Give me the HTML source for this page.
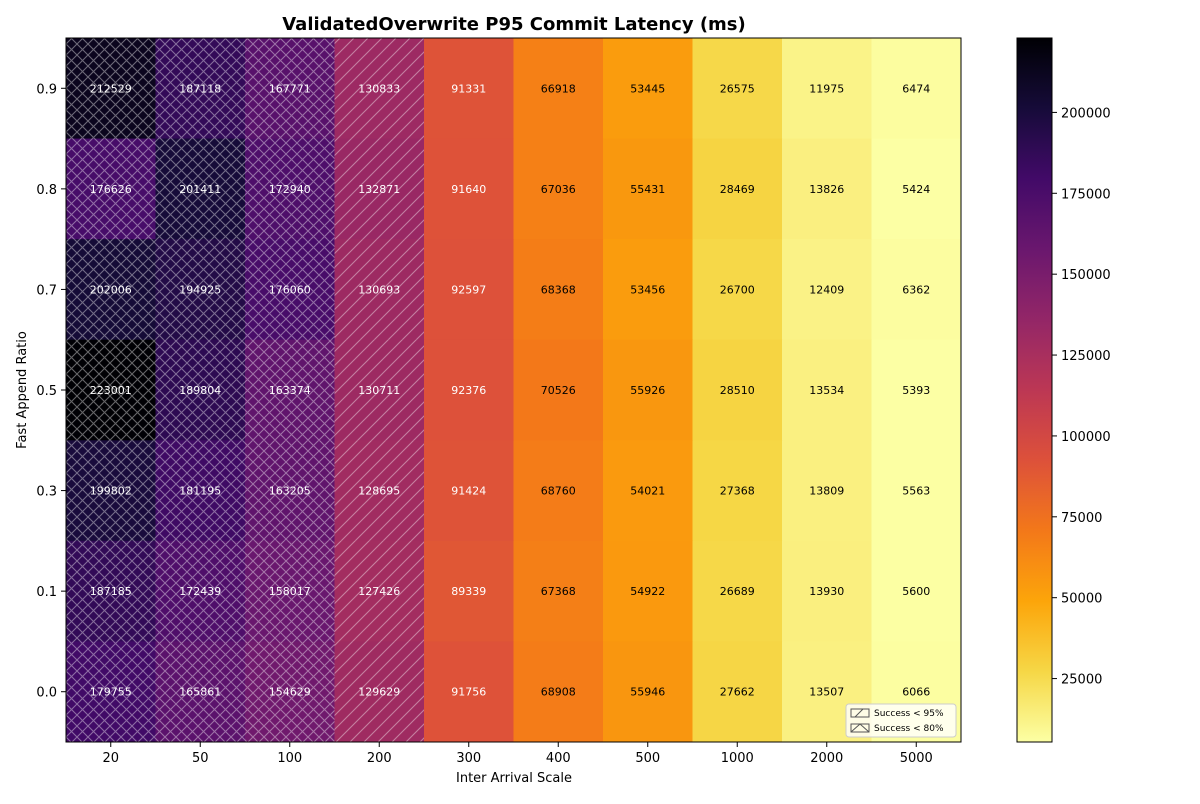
<!DOCTYPE html>
<html><head><meta charset="utf-8"><style>
body{margin:0;background:#fff;font-family:"DejaVu Sans","Liberation Sans",sans-serif}
</style></head><body>
<svg id="chart" width="1200" height="800" xmlns="http://www.w3.org/2000/svg" font-family="DejaVu Sans, Liberation Sans, sans-serif">
<defs>
<pattern id="hx" patternUnits="userSpaceOnUse" width="11" height="11">
<path d="M0,0L11,11M11,0L0,11" stroke="rgba(255,255,255,0.4)" stroke-width="1.1"/>
</pattern>
<pattern id="hs" patternUnits="userSpaceOnUse" width="14" height="14">
<path d="M-1,15L15,-1M-8,8L8,-8M6,22L22,6" stroke="rgba(255,255,255,0.4)" stroke-width="1.1"/>
</pattern>
<linearGradient id="cbg" x1="0" y1="1" x2="0" y2="0"></linearGradient>
</defs>
<text x="514" y="30" text-anchor="middle" font-size="18" font-weight="bold">ValidatedOverwrite P95 Commit Latency (ms)</text>
<g id="cells"></g>
<rect x="66" y="38" width="895" height="704" fill="none" stroke="#000" stroke-width="1"/>
<g id="axes"></g>
<text x="514" y="782" text-anchor="middle" font-size="13">Inter Arrival Scale</text>
<text transform="translate(26,390) rotate(-90)" text-anchor="middle" font-size="13">Fast Append Ratio</text>
<rect x="1017" y="38" width="35" height="704" fill="url(#cbg)"/>
<rect x="1017" y="38" width="35" height="704" fill="none" stroke="#000" stroke-width="1"/>
<g id="cbticks"></g>
<g>
<rect x="846" y="704" width="110" height="33" rx="3" fill="#fff" fill-opacity="0.8" stroke="#ccc"/>
<rect x="851" y="709" width="18" height="8" fill="none" stroke="#555"/>
<path d="M855,717L863,709" stroke="#555"/>
<text x="874" y="716" font-size="9">Success &lt; 95%</text>
<rect x="851" y="724" width="18" height="8" fill="none" stroke="#555"/>
<path d="M851,732L860,724L869,732" stroke="#555" fill="none"/>
<text x="874" y="731" font-size="9">Success &lt; 80%</text>
</g>
</svg>
<script>
const xCats=["20","50","100","200","300","400","500","1000","2000","5000"];
const yCats=["0.9","0.8","0.7","0.5","0.3","0.1","0.0"];
const row09=[212529,187118,167771,130833,91331,66918,53445,26575,11975,6474];
const row08=[176626,201411,172940,132871,91640,67036,55431,28469,13826,5424];
const row07=[202006,194925,176060,130693,92597,68368,53456,26700,12409,6362];
const row05=[223001,189804,163374,130711,92376,70526,55926,28510,13534,5393];
const row03=[199802,181195,163205,128695,91424,68760,54021,27368,13809,5563];
const row01=[187185,172439,158017,127426,89339,67368,54922,26689,13930,5600];
const row00=[179755,165861,154629,129629,91756,68908,55946,27662,13507,6066];
const hatchCols=["x","x","x","/","","","","","",""];
const cbTicks=[25000,50000,75000,100000,125000,150000,175000,200000];
const rows=[row09,row08,row07,row05,row03,row01,row00];
const NS="http://www.w3.org/2000/svg";
const L=66,T=38,W=895,H=704;
const all=rows.flat();const vmin=Math.min(...all),vmax=Math.max(...all);
const stops=["#000004","#160b39","#420a68","#6a176e","#932667","#bc3754","#dd513a","#f37819","#fca50a","#f6d746","#fcffa4"];
function hx(h){return [1,3,5].map(i=>parseInt(h.substr(i,2),16));}
function inferno(t){t=Math.max(0,Math.min(1,t));const p=t*10,i=Math.min(9,Math.floor(p)),f=p-i;const a=hx(stops[i]),b=hx(stops[i+1]);return "rgb("+a.map((v,k)=>Math.round(v+(b[k]-v)*f)).join(",")+")";}
function norm(v){return (v-vmin)/(vmax-vmin);}
function color(v){return inferno(1-norm(v));}
const cw=W/xCats.length,ch=H/yCats.length;
const xs=i=>L+i*cw,ys=j=>T+j*ch;
function mk(tag,attrs,parent){const e=document.createElementNS(NS,tag);for(const k in attrs)e.setAttribute(k,attrs[k]);parent.appendChild(e);return e;}
const cells=document.getElementById('cells');
rows.forEach((r,j)=>r.forEach((v,i)=>{
 const c=mk('rect',{x:xs(i),y:ys(j),width:cw+0.5,height:ch+0.5,fill:color(v)},cells);
 
 
 if(hatchCols[i]){const h=mk('rect',{x:xs(i),y:ys(j),width:cw,height:ch,fill:hatchCols[i]=="x"?"url(#hx)":"url(#hs)"},cells);
  
  }
 const t=mk('text',{x:xs(i)+cw/2,y:ys(j)+ch/2+4,'text-anchor':'middle','font-size':11,fill:norm(v)>0.35?'#fff':'#000'},cells);
 t.textContent=v;
 
 
}));
const ax=document.getElementById('axes');
xCats.forEach((c,i)=>{const x=xs(i)+cw/2;mk('line',{x1:x,x2:x,y1:T+H,y2:T+H+5,stroke:'#000'},ax);
 const t=mk('text',{x:x,y:T+H+20,'text-anchor':'middle','font-size':13},ax);t.textContent=c;
 
 });
yCats.forEach((c,j)=>{const y=ys(j)+ch/2;mk('line',{x1:L-5,x2:L,y1:y,y2:y,stroke:'#000'},ax);
 const t=mk('text',{x:L-9,y:y+5,'text-anchor':'end','font-size':13},ax);t.textContent=c;
 
 });
const g=document.getElementById('cbg');
for(let k=0;k<=20;k++){mk('stop',{offset:k/20,'stop-color':inferno(1-k/20)},g);}
const cb=document.getElementById('cbticks');
cbTicks.forEach(v=>{const y=T+H-norm(v)*H;mk('line',{x1:1052,x2:1057,y1:y,y2:y,stroke:'#000'},cb);
 const t=mk('text',{x:1061,y:y+5,'font-size':13},cb);t.textContent=v;
 
 });
</script>
</body></html>
